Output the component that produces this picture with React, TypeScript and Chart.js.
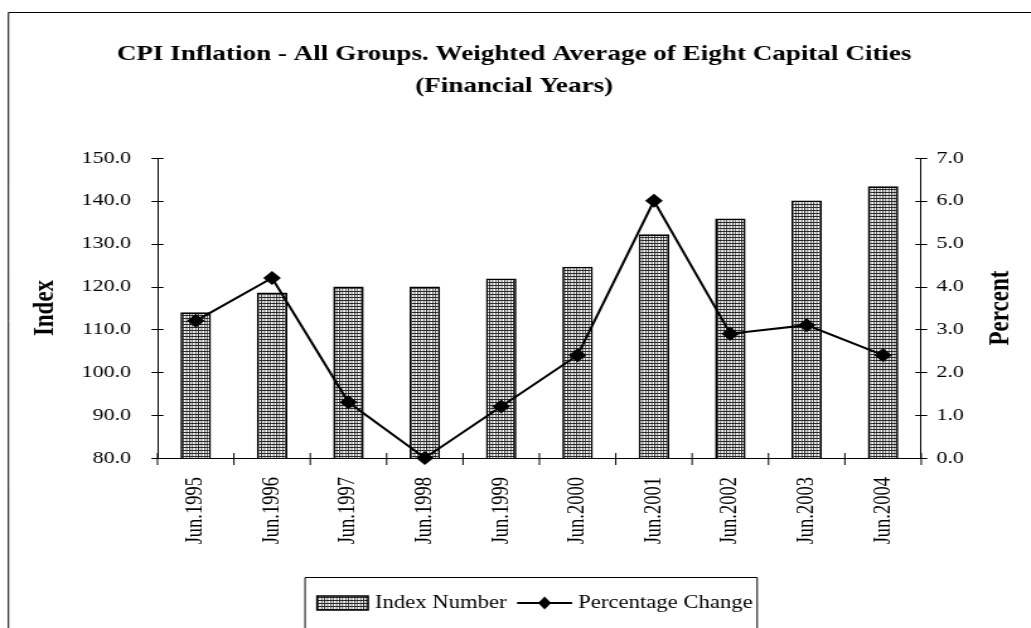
import React, { useEffect, useRef } from "react";
import { Chart, registerables } from "chart.js";

Chart.register(...registerables);

// ---- data ----
const categories = [
  "Jun.1995", "Jun.1996", "Jun.1997", "Jun.1998", "Jun.1999",
  "Jun.2000", "Jun.2001", "Jun.2002", "Jun.2003", "Jun.2004",
];
const indexNumber = [114.0, 118.6, 120.0, 120.0, 121.9, 124.6, 132.2, 135.9, 140.1, 143.4];
const percentageChange = [3.2, 4.2, 1.3, 0.0, 1.2, 2.4, 6.0, 2.9, 3.1, 2.4];
const seriesNames = ["Index Number", "Percentage Change"];
const titleLines = [
  "CPI Inflation - All Groups. Weighted Average of Eight Capital Cities",
  "(Financial Years)",
];
const leftAxisTitle = "Index";
const rightAxisTitle = "Percent";
const leftTicks = { min: 80, max: 150, step: 10 };
const rightTicks = { min: 0, max: 7, step: 1 };

// ---- layout (the reference is horizontally stretched) ----
const SX = 1.26;
const PAGE_W = 1031;
const PAGE_H = 628;
const W = Math.round(PAGE_W / SX);
const H = PAGE_H;
const X = (px: number) => px / SX;
const FONT = '"Liberation Serif", "Times New Roman", Times, serif';

function makePattern(ctx: CanvasRenderingContext2D): CanvasPattern | string {
  const tile = document.createElement("canvas");
  tile.width = 3;
  tile.height = 3;
  const t = tile.getContext("2d")!;
  t.fillStyle = "#ffffff";
  t.fillRect(0, 0, 3, 3);
  t.fillStyle = "#2a2a2a";
  t.fillRect(0, 0, 3, 1);
  t.fillRect(0, 0, 1, 3);
  const p = ctx.createPattern(tile, "repeat");
  if (!p) return "#888";
  try {
    p.setTransform(new DOMMatrix().scale(1 / SX, 1));
  } catch (e) {}
  return p;
}

function diamond(ctx: CanvasRenderingContext2D, x: number, y: number, r: number) {
  ctx.beginPath();
  ctx.moveTo(x, y - r);
  ctx.lineTo(x + r, y);
  ctx.lineTo(x, y + r);
  ctx.lineTo(x - r, y);
  ctx.closePath();
  ctx.fill();
}

export default function App() {
  const ref = useRef<HTMLCanvasElement | null>(null);

  useEffect(() => {
    const canvas = ref.current!;
    const ctx0 = canvas.getContext("2d")!;
    const pattern = makePattern(ctx0);

    const decorations = {
      id: "decorations",
      afterDraw(chart: any) {
        const ctx: CanvasRenderingContext2D = chart.ctx;
        const area = chart.chartArea;
        const xs = chart.scales.x;
        const yL = chart.scales.yL;
        const yR = chart.scales.yR;
        ctx.save();
        ctx.strokeStyle = "#000";
        ctx.fillStyle = "#000";
        ctx.lineWidth = 1;

        // outer frame (left + top)
        ctx.beginPath();
        ctx.moveTo(X(8.5), H + 2);
        ctx.lineTo(X(8.5), 12.5);
        ctx.lineTo(W + 2, 12.5);
        ctx.stroke();

        // tick marks crossing the axes
        ctx.beginPath();
        for (let v = leftTicks.min; v <= leftTicks.max; v += leftTicks.step) {
          const y = Math.round(yL.getPixelForValue(v)) + 0.5;
          ctx.moveTo(area.left - X(6), y);
          ctx.lineTo(area.left + X(6), y);
        }
        for (let v = rightTicks.min; v <= rightTicks.max; v += rightTicks.step) {
          const y = Math.round(yR.getPixelForValue(v)) + 0.5;
          ctx.moveTo(area.right - X(6), y);
          ctx.lineTo(area.right + X(6), y);
        }
        for (let i = 0; i <= categories.length; i++) {
          const x = xs.getPixelForValue(i - 0.5);
          ctx.moveTo(x, area.bottom - 5);
          ctx.lineTo(x, area.bottom + 7);
        }
        ctx.stroke();

        // title
        ctx.textAlign = "center";
        ctx.textBaseline = "middle";
        ctx.font = `bold 21.5px ${FONT}`;
        ctx.fillText(titleLines[0], X(514), 54);
        ctx.fillText(titleLines[1], X(514), 86);

        // axis titles
        const midY = (area.top + area.bottom) / 2;
        ctx.font = `bold 23px ${FONT}`;
        ctx.save();
        ctx.translate(X(46), midY);
        ctx.rotate(-Math.PI / 2);
        ctx.fillText(leftAxisTitle, 0, 0);
        ctx.restore();
        ctx.save();
        ctx.translate(X(1000), midY);
        ctx.rotate(-Math.PI / 2);
        ctx.fillText(rightAxisTitle, 0, 0);
        ctx.restore();

        // legend
        const lgTop = 577.5;
        ctx.beginPath();
        ctx.moveTo(X(305), H + 2);
        ctx.lineTo(X(305), lgTop);
        ctx.lineTo(X(757), lgTop);
        ctx.lineTo(X(757), H + 2);
        ctx.stroke();
        const cy = 603;
        // swatch
        ctx.fillStyle = pattern as any;
        ctx.fillRect(X(317), cy - 7, X(51), 14);
        ctx.lineWidth = 1.5;
        ctx.strokeRect(X(317), cy - 7, X(51), 14);
        ctx.fillStyle = "#000";
        ctx.font = `18px ${FONT}`;
        ctx.textAlign = "left";
        ctx.fillText(seriesNames[0], X(375), cy);
        // line sample
        ctx.lineWidth = 2;
        ctx.beginPath();
        ctx.moveTo(X(517), cy);
        ctx.lineTo(X(572), cy);
        ctx.stroke();
        ctx.save();
        ctx.translate(X(544.5), cy);
        ctx.scale(1 / SX, 1);
        diamond(ctx, 0, 0, 6.5);
        ctx.restore();
        ctx.fillText(seriesNames[1], X(578), cy);

        ctx.restore();
      },
    };

    const chart = new Chart(canvas, {
      type: "bar",
      data: {
        labels: categories,
        datasets: [
          {
            type: "line",
            label: seriesNames[1],
            data: percentageChange,
            yAxisID: "yR",
            borderColor: "#000",
            borderWidth: 2,
            backgroundColor: "#000",
            pointStyle: "rectRot",
            pointRadius: 7,
            pointBackgroundColor: "#000",
            pointBorderColor: "#000",
            pointBorderWidth: 0,
            tension: 0,
            clip: false as any,
            order: 1,
          } as any,
          {
            type: "bar",
            label: seriesNames[0],
            data: indexNumber,
            yAxisID: "yL",
            backgroundColor: pattern as any,
            borderColor: "#000",
            borderWidth: 1.7,
            barPercentage: 0.4,
            categoryPercentage: 1,
            order: 2,
          } as any,
        ],
      },
      options: {
        responsive: false,
        maintainAspectRatio: false,
        animation: false,
        devicePixelRatio: 1,
        layout: { padding: { left: 0, right: 0, top: 158, bottom: 0 } },
        plugins: {
          legend: { display: false },
          title: { display: false },
          tooltip: { enabled: false },
        },
        scales: {
          x: {
            type: "category",
            grid: { display: false, drawTicks: false },
            border: { display: true, color: "#000", width: 1 },
            ticks: {
              color: "#000",
              font: { family: FONT, size: 18.5 },
              minRotation: 90,
              maxRotation: 90,
              autoSkip: false,
              padding: 19,
            },
            afterFit: (scale: any) => {
              scale.height = H - 458;
            },
          },
          yL: {
            type: "linear",
            position: "left",
            min: leftTicks.min,
            max: leftTicks.max,
            grid: { display: false, drawTicks: false },
            border: { display: true, color: "#000", width: 1 },
            ticks: {
              stepSize: leftTicks.step,
              color: "#000",
              font: { family: FONT, size: 17.5 },
              padding: 21,
              callback: (v: any) => Number(v).toFixed(1),
            },
            afterFit: (scale: any) => {
              scale.width = X(157.5);
            },
          },
          yR: {
            type: "linear",
            position: "right",
            min: rightTicks.min,
            max: rightTicks.max,
            grid: { display: false, drawTicks: false },
            border: { display: true, color: "#000", width: 1 },
            ticks: {
              stepSize: rightTicks.step,
              color: "#000",
              font: { family: FONT, size: 17.5 },
              padding: 12,
              callback: (v: any) => Number(v).toFixed(1),
            },
            afterFit: (scale: any) => {
              scale.width = W - X(921);
            },
          },
        },
      },
      plugins: [decorations],
    });

    return () => chart.destroy();
  }, []);

  return (
    <canvas
      ref={ref}
      width={W}
      height={H}
      style={{
        position: "fixed",
        left: 0,
        top: 0,
        width: PAGE_W + "px",
        height: PAGE_H + "px",
        background: "#fff",
      }}
    />
  );
}
